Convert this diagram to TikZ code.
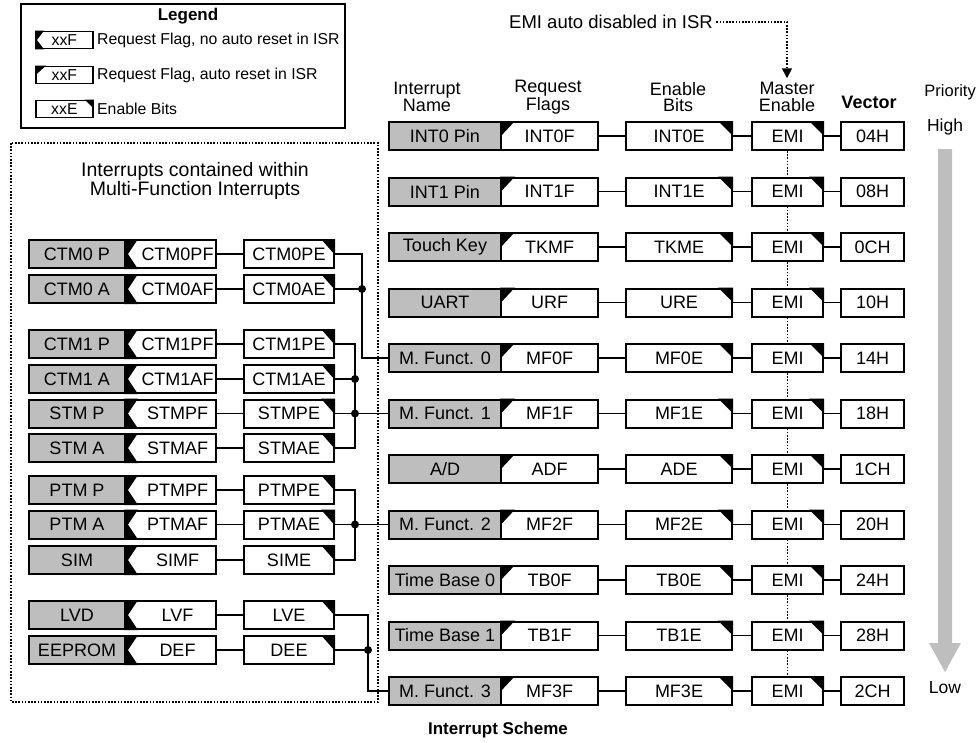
\documentclass[tikz,border=0pt]{standalone}
\usepackage{fontspec}
\setmainfont{Liberation Sans}
\usetikzlibrary{calc,arrows.meta}
\definecolor{nmgrey}{RGB}{190,190,190}
\definecolor{argrey}{RGB}{190,190,190}
\newcommand\rowfont{\fontsize{18}{20}\selectfont}
\newcommand\hdfont{\fontsize{18}{16.5}\selectfont}
\newcommand\lgfont{\fontsize{15.8}{16}\selectfont}
\newcommand\adtext{A/D}
\tikzset{
  bx/.style={draw, line width=2pt, inner sep=0pt, anchor=west, minimum height=28pt, font=\rowfont},
  nmbox/.style={bx, fill=nmgrey, minimum width=112pt},
  flbox/.style={bx, fill=white, minimum width=97pt},
  enbox/.style={bx, fill=white, minimum width=106pt},
  emibox/.style={bx, fill=white, minimum width=71pt},
  vecbox/.style={bx, fill=white, minimum width=63pt},
  lnm/.style={bx, fill=nmgrey, minimum width=96pt},
  lfl/.style={bx, fill=white, minimum width=91pt},
  len/.style={bx, fill=white, minimum width=90pt},
  lgbox/.style={draw, line width=1.8pt, inner sep=0pt, anchor=west, minimum width=57pt, minimum height=17pt, font=\lgfont},
  lgtxt/.style={anchor=west, inner sep=0pt, font=\lgfont},
  conn/.style={line width=1.8pt},
  dotln/.style={line width=1.6pt, dash pattern=on 1.6pt off 1.6pt},
  hd/.style={font=\hdfont, align=center, inner sep=0pt},
  jdot/.style={fill=black},
}
\begin{document}
\begin{tikzpicture}[x=1pt,y=-1pt]
\useasboundingbox (0,0) rectangle (977,742);

% ---------------- Legend ----------------
\draw[line width=1.8pt] (21,4) rectangle (345,128);
\node[font=\fontsize{17}{17}\selectfont\bfseries, inner sep=0pt] (lgtitle) at (188,16) {Legend};
\node[lgbox] (lg1) at (35,40) {xxF};
\fill (lg1.north west) -- ++(9,0) -- ($(lg1.west)+(2,0)$) -- ($(lg1.south west)+(9,0)$) -- (lg1.south west) -- cycle;
\node[lgtxt] (lt1) at (97,40) {Request Flag, no auto reset in ISR};
\node[lgbox] (lg2) at (35,75) {xxF};
\fill (lg2.north west) -- ++(11,0) -- ++(-11,10) -- cycle;
\node[lgtxt] (lt2) at (97,75) {Request Flag, auto reset in ISR};
\node[lgbox] (lg3) at (35,109) {xxE};
\fill (lg3.north east) -- ++(-9,0) -- ++(9,9) -- cycle;
\node[lgtxt] (lt3) at (97,109) {Enable Bits};

% ---------------- Headings ----------------
\node[hd] (h1) at (427,97) {Interrupt\\Name};
\node[hd] (h2) at (548,97) {Request\\Flags};
\node[hd] (h3) at (678,97) {Enable\\Bits};
\node[hd] (h4) at (787,97) {Master\\Enable};
\node[hd, font=\hdfont\bfseries] (h5) at (869,102) {Vector};
\node[hd, anchor=east, font=\fontsize{16.5}{16}\selectfont] (h6) at (976,92) {Priority};
\node[hd, font=\fontsize{17.5}{16}\selectfont] (hh) at (945,127) {High};
\node[hd, font=\fontsize{17.5}{16}\selectfont] (hl) at (945,688) {Low};

% ---------------- Priority arrow ----------------
\fill[argrey] (938,149) -- (952,149) -- (952,643) -- (961,643) -- (945,672) -- (929,643) -- (938,643) -- cycle;

% ---------------- Main rows ----------------
\foreach \i/\nm/\fl/\en/\vc in {0/INT0 Pin/INT0F/INT0E/04H,1/INT1 Pin/INT1F/INT1E/08H,2/Touch Key/TKMF/TKME/0CH,3/UART/URF/URE/10H,4/M. Funct. 0/MF0F/MF0E/14H,5/M. Funct. 1/MF1F/MF1E/18H,6/\adtext/ADF/ADE/1CH,7/M. Funct. 2/MF2F/MF2E/20H,8/Time Base 0/TB0F/TB0E/24H,9/Time Base 1/TB1F/TB1E/28H,10/M. Funct. 3/MF3F/MF3E/2CH}{
  \pgfmathsetmacro\yy{136+55.5*\i}
  \node[nmbox] (n\i) at (388,\yy) {\nm};
  \node[flbox] (f\i) at (500,\yy) {\fl};
  \node[enbox] (e\i) at (625,\yy) {\en};
  \node[emibox] (m\i) at (751,\yy) {EMI};
  \node[vecbox] (v\i) at (840,\yy) {\vc};
  \fill (f\i.north west) -- ++(15,0) -- ++(-15,16) -- cycle;
  \fill (e\i.north east) -- ++(-15,0) -- ++(15,15) -- cycle;
  \fill (m\i.north east) -- ++(-15,0) -- ++(15,15) -- cycle;
  \draw[conn] (f\i) -- (e\i);
  \draw[conn] (e\i) -- (m\i);
  \draw[conn] (m\i) -- (v\i);
}
\foreach \i in {0,...,9}{
  \pgfmathtruncatemacro\j{\i+1}
  \draw[dotln] (m\i.south) -- (m\j.north);
}

% ---------------- EMI note ----------------
\node[font=\fontsize{18.5}{20}\selectfont] (emit) at (611,22) {EMI auto disabled in ISR};
\draw[dotln, shorten >=4pt, -{Triangle[width=10pt,length=10pt]}] (emit.east) -| (h4.north);

% ---------------- Multi-function panel ----------------
\draw[dotln] (11,143) rectangle (378,702);
\node[hd, font=\fontsize{19.5}{17}\selectfont, align=center] (ptitle) at (195,181) {Interrupts contained within\\Multi-Function Interrupts};

\foreach \k/\nm/\fl/\en/\yy in {1/CTM0 P/CTM0PF/CTM0PE/254,2/CTM0 A/CTM0AF/CTM0AE/289,3/CTM1 P/CTM1PF/CTM1PE/344,4/CTM1 A/CTM1AF/CTM1AE/379,5/STM P/STMPF/STMPE/413.5,6/STM A/STMAF/STMAE/448,7/PTM P/PTMPF/PTMPE/490,8/PTM A/PTMAF/PTMAE/524.5,9/SIM/SIMF/SIME/560,10/LVD/LVF/LVE/615,11/EEPROM/DEF/DEE/650}{
  \node[lnm] (ln\k) at (28,\yy) {\nm};
  \node[lfl] (lf\k) at (124,\yy) {};
  \node[len] (le\k) at (243,\yy) {\en};
  \fill (lf\k.north west) -- ++(14,0) -- ($(lf\k.west)+(4,0)$) -- ($(lf\k.south west)+(14,0)$) -- (lf\k.south west) -- cycle;
  \node[font=\rowfont, inner sep=0pt] (lft\k) at ($(lf\k.center)+(7,0)$) {\fl};
  \fill (le\k.north east) -- ++(-14,0) -- ++(14,16) -- cycle;
  \draw[conn] (lf\k) -- (le\k);
}

\coordinate (busA) at (362,0);
\coordinate (busB) at (355,0);
\coordinate (busD) at (368,0);

% MF0
\draw[conn] (le1.east) -| (busA |- n4.west) -- (n4.west);
\draw[conn] (le2.east) -- (le2.east -| busA);
\fill[jdot] (le2.east -| busA) circle (4);
% MF1
\draw[conn] (le3.east) -| (busB |- le6.east) -- (le6.east);
\draw[conn] (le4.east) -- (le4.east -| busB);
\fill[jdot] (le4.east -| busB) circle (4);
\draw[conn] (le5.east) -- (n5.west);
\fill[jdot] (le5.east -| busB) circle (4);
% MF2
\draw[conn] (le7.east) -| (busB |- le9.east) -- (le9.east);
\draw[conn] (le8.east) -- (n7.west);
\fill[jdot] (le8.east -| busB) circle (4);
% MF3
\draw[conn] (le10.east) -| (busD |- n10.west) -- (n10.west);
\draw[conn] (le11.east) -- (le11.east -| busD);
\fill[jdot] (le11.east -| busD) circle (4);

% ---------------- Caption ----------------
\node[font=\fontsize{17}{17}\selectfont\bfseries, inner sep=0pt] (cap) at (498,730) {Interrupt Scheme};
\end{tikzpicture}
\end{document}
